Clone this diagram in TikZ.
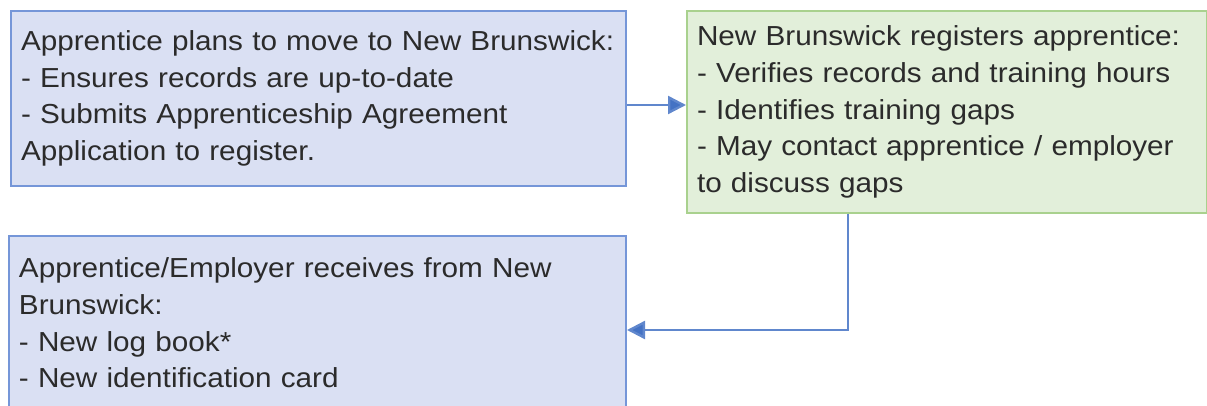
\documentclass[tikz,border=0pt]{standalone}
\usepackage{fontspec}
\setmainfont[FakeStretch=1.08]{Liberation Sans}
\usetikzlibrary{arrows.meta}
\definecolor{stepfill}{HTML}{DAE0F3}
\definecolor{stepline}{HTML}{7596D8}
\definecolor{nbfill}{HTML}{E2EFDA}
\definecolor{nbline}{HTML}{A9D18E}
\definecolor{flowblue}{HTML}{4472C4}
\definecolor{textgrey}{HTML}{2B2B2B}
\begin{document}
\begin{tikzpicture}[x=1pt,y=-1pt,
  box/.style={rectangle, line width=2pt, anchor=north west, align=left,
    inner xsep=10pt, inner ysep=0pt, text=textgrey,
    font=\fontsize{27.5}{36.6}\selectfont},
  bluebox/.style={box, draw=stepline, fill=stepfill},
  greenbox/.style={box, draw=nbline, fill=nbfill},
  flow/.style={draw=flowblue!85!white, line width=2.4pt, -{Triangle[length=18pt,width=18pt,fill=flowblue]}}]
\useasboundingbox (0,0) rectangle (1207,406);
\clip (0,0) rectangle (1207,406);
\node[bluebox, minimum width=615, minimum height=175, text width=595](plan) at (10,10)
  {Apprentice plans to move to New Brunswick:\\- Ensures records are up-to-date\\- Submits Apprenticeship Agreement\\Application to register.};
\node[greenbox, minimum width=520, minimum height=202, text width=500](register) at (686,10)
  {New Brunswick registers apprentice:\\- Verifies records and training hours\\- Identifies training gaps\\- May contact apprentice / employer\\to discuss gaps};
\node[bluebox, minimum width=617, minimum height=174, text width=597](receive) at (8,235)
  {Apprentice/Employer receives from New\\Brunswick:\\- New log book*\\- New identification card};
\draw[flow] (plan.east |- 0,105) -- (register.west |- 0,105);
\draw[flow] (register.south -| 848,0) |- (receive.east |- 0,330);
\end{tikzpicture}
\end{document}
